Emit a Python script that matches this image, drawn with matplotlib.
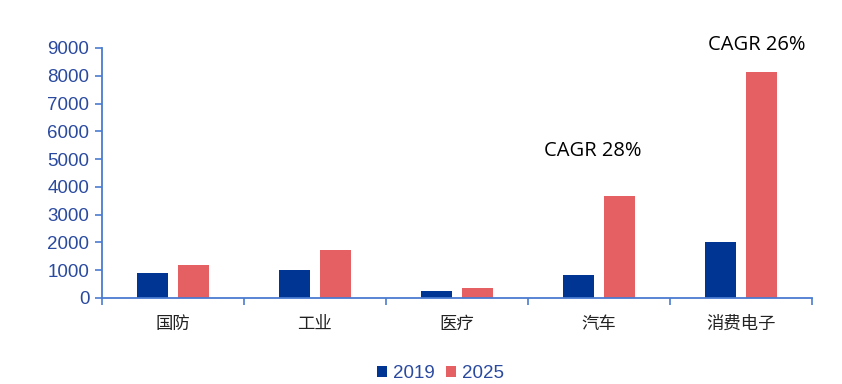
import numpy as np
import matplotlib.pyplot as plt

plt.rcParams['font.family'] = ['Noto Sans CJK SC', 'DejaVu Sans']

categories = ['国防', '工业', '医疗', '汽车', '消费电子']
v2019 = [900, 1000, 250, 830, 2010]
v2025 = [1200, 1730, 360, 3670, 8140]
yticks = [0, 1000, 2000, 3000, 4000, 5000, 6000, 7000, 8000, 9000]

c2019 = '#003594'
c2025 = '#E46062'
axis_c = '#4A7BD0'
tick_c = '#2A4AA0'

fig = plt.figure(figsize=(8.42, 3.84), dpi=100)
ax = fig.add_axes([0.121, 0.224, 0.843, 0.651])

x = np.arange(len(categories))
w = 0.22
ax.bar(x - 0.145, v2019, w, color=c2019, label='2019')
ax.bar(x + 0.145, v2025, w, color=c2025, label='2025')

ax.set_xlim(-0.5, len(categories) - 0.5)
ax.set_ylim(0, 9000)
ax.set_yticks(yticks)
ax.set_yticklabels([str(t) for t in yticks], family='Liberation Sans', fontsize=13.5, color=tick_c)
ax.set_xticks(x)
ax.set_xticklabels(categories, fontsize=12.5, color='#222222')
ax.set_xticks(np.arange(len(categories) + 1) - 0.5, minor=True)
ax.tick_params(axis='x', which='major', length=0, pad=12)
ax.tick_params(axis='x', which='minor', length=5, color=axis_c, width=1.2)
ax.tick_params(axis='y', length=5, color=axis_c, width=1.2, pad=4)

for s in ['top', 'right']:
    ax.spines[s].set_visible(False)
for s in ['left', 'bottom']:
    ax.spines[s].set_color(axis_c)
    ax.spines[s].set_linewidth(1.3)

ax.text(2.955, 5300, 'CAGR 28%', ha='center', va='center', fontsize=14.5, family='Open Sans')
ax.text(4.11, 9100, 'CAGR 26%', ha='center', va='center', fontsize=14.5, family='Open Sans')

leg = ax.legend(loc='upper center', bbox_to_anchor=(0.477, -0.2), ncol=2, frameon=False,
                handlelength=0.55, handleheight=0.55, handletextpad=0.3, columnspacing=0.6,
                prop={'family': 'Liberation Sans', 'size': 13.5})
for t in leg.get_texts():
    t.set_color(tick_c)

fig.savefig('out.png', dpi=100)
